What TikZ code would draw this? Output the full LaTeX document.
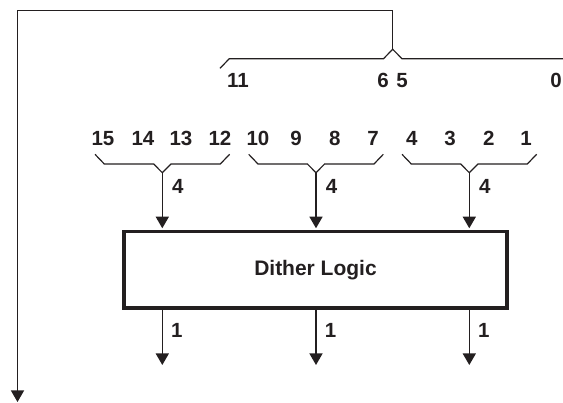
\documentclass[tikz,border=0pt]{standalone}
\usepackage{fontspec}
\setmainfont{Liberation Sans}
\usetikzlibrary{arrows.meta}
\definecolor{ink}{RGB}{35,31,32}
\begin{document}
\begin{tikzpicture}[x=1pt,y=-1pt,
  thinline/.style={draw=ink,line width=1.2pt,line join=miter},
  arr/.style={thinline,-{Triangle[length=11.5pt,width=13pt]}},
  lbl/.style={inner sep=0pt,anchor=base,text=ink,font=\fontsize{20.5}{24}\selectfont\bfseries},
  logicbox/.style={draw=ink,line width=3.6pt,minimum width=383pt,minimum height=76.3pt,inner sep=0pt,text=ink,font=\fontsize{21}{25}\selectfont\bfseries}]
\useasboundingbox (0,0) rectangle (563,403);

% top bus
\coordinate (apexT) at (392.7,49.3);
\coordinate (tr) at (392.7,10.7);
\coordinate (tl) at (17.5,10.7);
\coordinate (bl) at (17.5,402);
\coordinate (tbL) at (220,68.3);
\coordinate (tbR) at (563,58.7);
\draw[thinline] (tbL) -- (229.3,58.7) -- (383.5,58.7) -- (apexT) -- (402,58.7) -- (tbR);
\draw[arr] (apexT) -- (tr) -- (tl) -- (bl);
\node[lbl] (t11) at (238,87.3) {11};
\node[lbl] (t6) at (383,87.3) {6};
\node[lbl] (t5) at (402,87.3) {5};
\node[lbl] (t0) at (556,87.3) {0};

% dither logic box
\node[logicbox] (box) at (315.5,269.8) {Dither Logic};

% groups
\foreach \n/\a in {A/162.3,B/316,C/469.3}{
  \coordinate (apex\n) at (\a,172.7);
  \coordinate (out\n) at (\a,365);
  \draw[thinline] (\a-67.3,154.3) -- ++(9.3,9.7) -- (\a-8.6,164) -- (apex\n) -- (\a+8.6,164) -- (\a+58,164) -- ++(9.3,-9.7);
  \draw[arr] (apex\n) -- ([yshift=1.6pt]apex\n |- box.north);
  \draw[arr] (apex\n |- box.south) -- (out\n);
  \node[lbl] (four\n) at (\a+15.5,194) {4};
  \node[lbl] (one\n) at (\a+14.5,337.3) {1};
}

% bit labels
\node[lbl] (b15) at (103,145.3) {15};
\node[lbl] (b14) at (143,145.3) {14};
\node[lbl] (b13) at (181,145.3) {13};
\node[lbl] (b12) at (220,145.3) {12};
\node[lbl] (b10) at (258,145.3) {10};
\node[lbl] (b9) at (296,145.3) {9};
\node[lbl] (b8) at (334.7,145.3) {8};
\node[lbl] (b7) at (373,145.3) {7};
\node[lbl] (b4) at (411.7,145.3) {4};
\node[lbl] (b3) at (450,145.3) {3};
\node[lbl] (b2) at (488.7,145.3) {2};
\node[lbl] (b1) at (526,145.3) {1};
\end{tikzpicture}
\end{document}
